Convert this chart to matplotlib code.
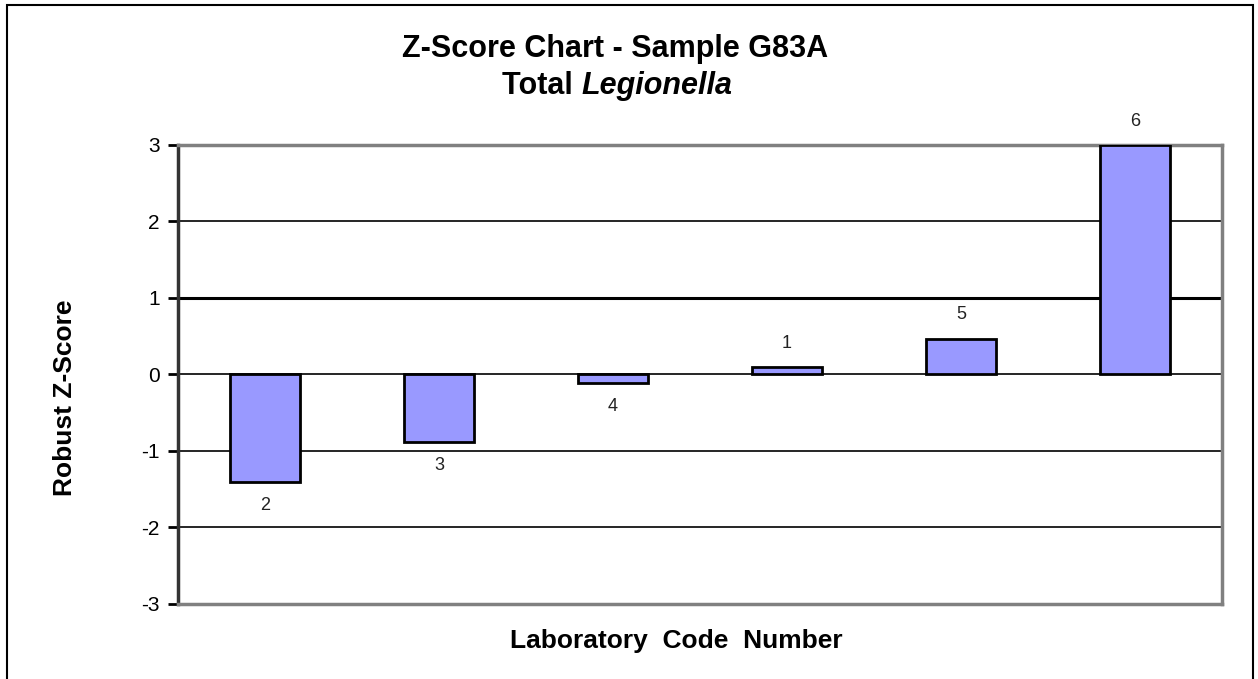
import matplotlib.pyplot as plt
from matplotlib.patches import Rectangle

lab_codes = ["2", "3", "4", "1", "5", "6"]
z_scores = [-1.40, -0.88, -0.11, 0.10, 0.47, 3.0]
y_ticks = [-3, -2, -1, 0, 1, 2, 3]

plt.rcParams['font.family'] = ['Liberation Sans', 'DejaVu Sans']
plt.rcParams['axes.unicode_minus'] = False

fig = plt.figure(figsize=(12.58, 6.79), dpi=100)
# outer chart border
fig.patches.append(Rectangle((7 / 1258, -0.01), 1246 / 1258, 1 - 5 / 679 + 0.01,
                             transform=fig.transFigure, fill=False,
                             edgecolor='black', linewidth=1.5))

ax = fig.add_axes([0.1415, 0.1105, 0.830, 0.676])
x = range(len(lab_codes))
ax.bar(x, z_scores, width=0.4, color='#9999FF', edgecolor='black',
       linewidth=2, zorder=3)

for xi, v, lab in zip(x, z_scores, lab_codes):
    if v < 0:
        ax.text(xi, v - 0.2, lab, ha='center', va='top', fontsize=13, color='#222222')
    else:
        ax.text(xi, v + 0.2, lab, ha='center', va='bottom', fontsize=13, color='#222222')

ax.set_xlim(-0.5, len(lab_codes) - 0.5)
ax.set_ylim(-3, 3)
ax.set_yticks(y_ticks)
ax.set_xticks([])
for g in [-2, -1, 0, 2]:
    ax.axhline(g, color='black', linewidth=1.2, zorder=1)
ax.axhline(1, color='black', linewidth=2.2, zorder=1)

for s in ['top', 'right', 'bottom']:
    ax.spines[s].set_color('#808080')
    ax.spines[s].set_linewidth(2.5)
ax.spines['left'].set_color('#333333')
ax.spines['left'].set_linewidth(2.5)
ax.tick_params(axis='y', length=7, width=2, labelsize=15, pad=6)

ax.set_ylabel('Robust Z-Score', fontsize=19, fontweight='bold')
ax.yaxis.set_label_coords(-0.108, 0.449)
ax.set_xlabel('Laboratory  Code  Number', fontsize=19, fontweight='bold')
ax.xaxis.set_label_coords(0.477, -0.081)
ax.xaxis.label.set_va('center')
ax.yaxis.label.set_va('center')

fig.text(0.489, 0.928, 'Z-Score Chart - Sample G83A', ha='center', va='center',
         fontsize=22, fontweight='bold')
fig.text(0.462, 0.874, 'Total ', ha='right', va='center',
         fontsize=22, fontweight='bold')
fig.text(0.462, 0.874, 'Legionella', ha='left', va='center',
         fontsize=22, fontweight='bold', fontstyle='italic')

fig.savefig('out.png', dpi=100)
